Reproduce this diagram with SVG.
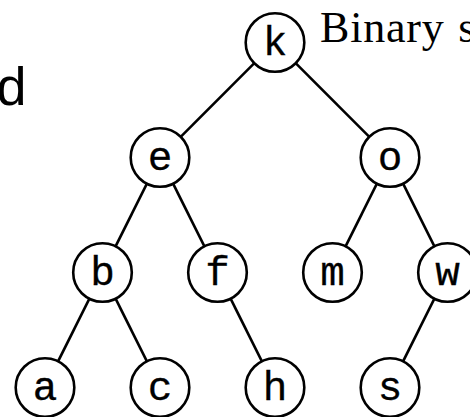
<svg xmlns="http://www.w3.org/2000/svg" width="470" height="417" viewBox="0 0 470 417">
<style>
.n circle{fill:#fff;stroke:#000;stroke-width:2.6}
.n text{font-family:"Liberation Mono","DejaVu Sans Mono",monospace;font-size:41px;text-anchor:middle;fill:#000;stroke:#000;stroke-width:0.3}
#edges line{stroke:#000;stroke-width:2.6;stroke-linecap:butt}
.title{font-family:"Liberation Serif","DejaVu Serif",serif;font-size:44px;fill:#000;letter-spacing:0.8px}
.side{font-family:"Liberation Sans","DejaVu Sans",sans-serif;font-size:54px;fill:#000}
</style>
<rect width="470" height="417" fill="#fff"/>
<text class="side" x="-3.5" y="105">d</text>
<text class="title" x="320" y="42.3" word-spacing="2">Binary se</text>
<g id="edges">
<line x1="254.1" y1="63.4" x2="180.9" y2="136.6"/>
<line x1="295.9" y1="63.4" x2="369.1" y2="136.6"/>
<line x1="146.8" y1="183.9" x2="115.7" y2="246.1"/>
<line x1="173.2" y1="183.9" x2="204.3" y2="246.1"/>
<line x1="376.8" y1="183.9" x2="345.7" y2="246.1"/>
<line x1="403.2" y1="183.9" x2="434.3" y2="246.1"/>
<line x1="89.3" y1="298.9" x2="58.2" y2="361.1"/>
<line x1="115.7" y1="298.9" x2="146.8" y2="361.1"/>
<line x1="230.7" y1="298.9" x2="261.8" y2="361.1"/>
<line x1="434.3" y1="298.9" x2="403.2" y2="361.1"/>
</g>
<g id="node-k" class="n"><circle cx="275" cy="42.5" r="29.3"/><text x="275" y="55">k</text></g>
<g id="node-e" class="n"><circle cx="160" cy="157.5" r="29.3"/><text x="160" y="170">e</text></g>
<g id="node-o" class="n"><circle cx="390" cy="157.5" r="29.3"/><text x="390" y="170">o</text></g>
<g id="node-b" class="n"><circle cx="102.5" cy="272.5" r="29.3"/><text x="102.5" y="285">b</text></g>
<g id="node-f" class="n"><circle cx="217.5" cy="272.5" r="29.3"/><text x="217.5" y="285">f</text></g>
<g id="node-m" class="n"><circle cx="332.5" cy="272.5" r="29.3"/><text x="332.5" y="285">m</text></g>
<g id="node-w" class="n"><circle cx="447.5" cy="272.5" r="29.3"/><text x="447.5" y="285">w</text></g>
<g id="node-a" class="n"><circle cx="45" cy="387.5" r="29.3"/><text x="45" y="400">a</text></g>
<g id="node-c" class="n"><circle cx="160" cy="387.5" r="29.3"/><text x="160" y="400">c</text></g>
<g id="node-h" class="n"><circle cx="275" cy="387.5" r="29.3"/><text x="275" y="400">h</text></g>
<g id="node-s" class="n"><circle cx="390" cy="387.5" r="29.3"/><text x="390" y="400">s</text></g>
</svg>
